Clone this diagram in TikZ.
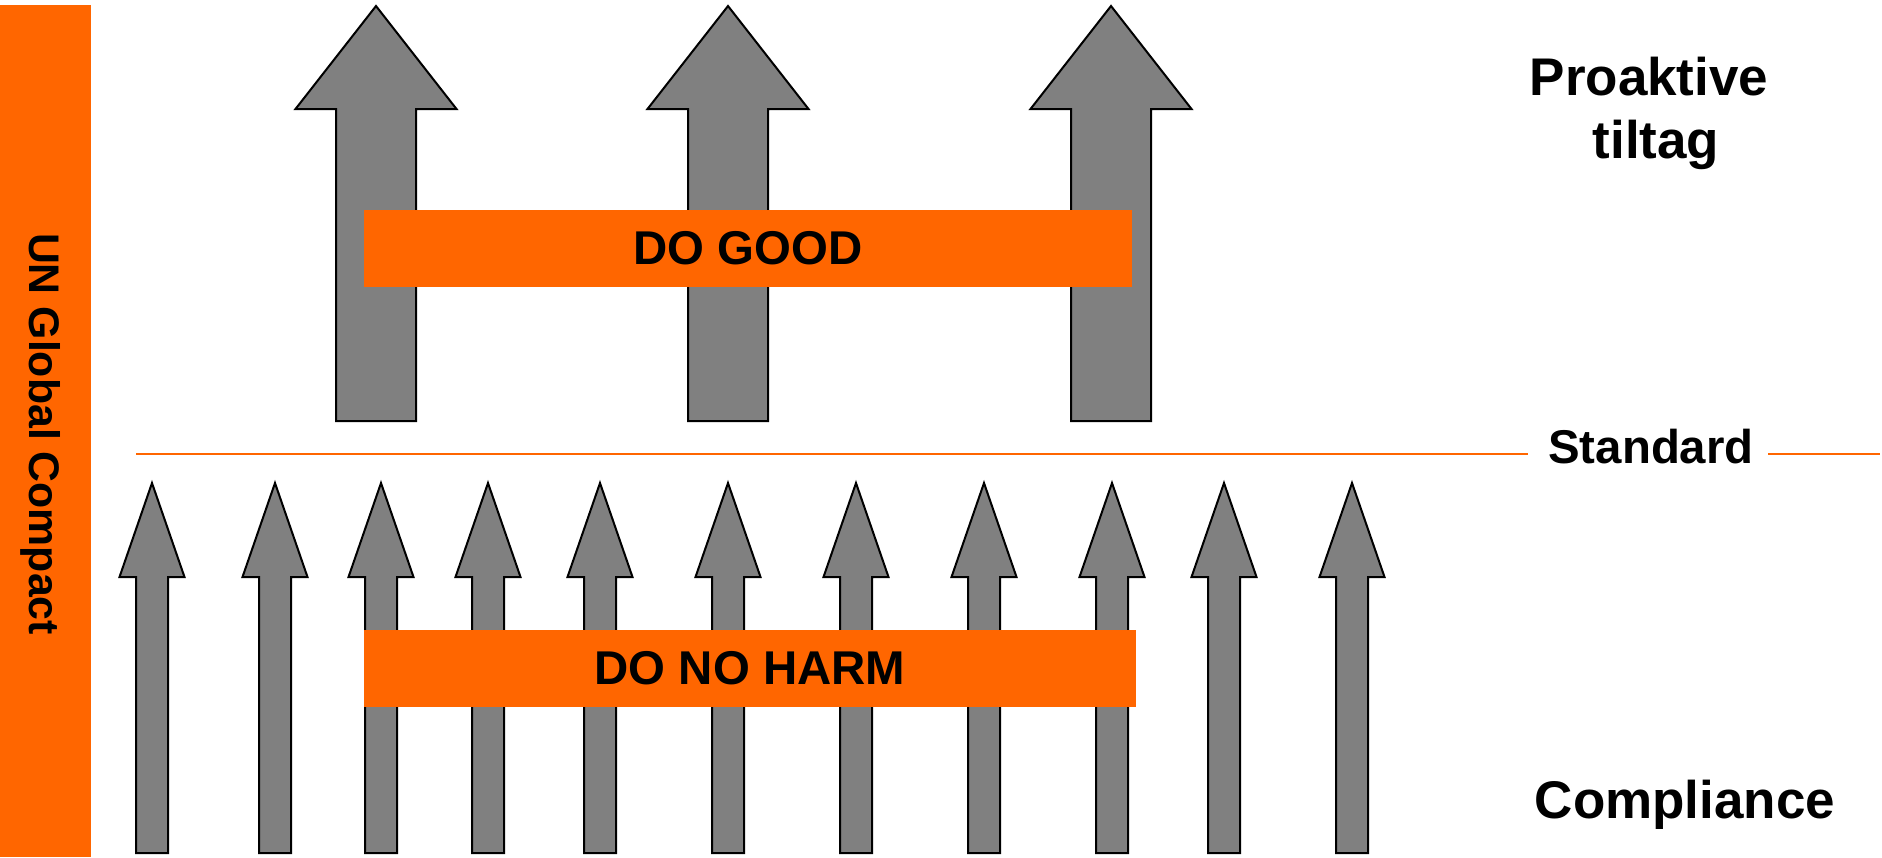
\documentclass[tikz,border=0pt]{standalone}
\usepackage{fontspec}
\setmainfont{Liberation Sans}
\definecolor{ungcorange}{HTML}{FF6600}
\definecolor{arrowgray}{HTML}{808080}
\begin{document}
\begin{tikzpicture}[x=0.5pt,y=-0.5pt,
  arrowbody/.style={fill=arrowgray,draw=black,line width=1pt,line join=miter},
  orangebox/.style={fill=ungcorange,inner sep=0pt,text=black,
    font=\bfseries\fontsize{23.7pt}{28pt}\selectfont},
  bigtext/.style={anchor=base,inner sep=0pt,font=\bfseries\fontsize{26.5pt}{31.5pt}\selectfont},
  midtext/.style={anchor=base,inner sep=0pt,font=\bfseries\fontsize{23.7pt}{28pt}\selectfont},
  stdline/.style={draw=ungcorange,line width=1pt},
  pics/bigarrow/.style={code={\draw[arrowbody] (0,0) -- (80.5,103) -- (40,103) -- (40,415) -- (-40,415) -- (-40,103) -- (-80.5,103) -- cycle;}},
  pics/smallarrow/.style={code={\draw[arrowbody] (0,0) -- (32.5,94) -- (16,94) -- (16,370) -- (-16,370) -- (-16,94) -- (-32.5,94) -- cycle;}},
]
\useasboundingbox (0,0) rectangle (1882,857);

% left bar
\fill[ungcorange] (0,5) rectangle (91,857);
\node[inner sep=0pt,rotate=-90,anchor=base,
      font=\bfseries\fontsize{21.4pt}{26pt}\selectfont] (ungc) at (29,434) {UN Global Compact};

% big arrows
\foreach \x [count=\i] in {376,728,1111} {
  \pic (big\i) at (\x,6) {bigarrow};
}

% small arrows
\foreach \x [count=\i] in {152,275,381,488,600,728,856,984,1112,1224,1352} {
  \pic (small\i) at (\x,483) {smallarrow};
}

% boxes
\node[orangebox,minimum width=384pt,minimum height=38.5pt] (dogood) at (748,248.5) {DO GOOD};
\node[orangebox,minimum width=386pt,minimum height=38.5pt] (donoharm) at (750,668.5) {DO NO HARM};

% standard line
\coordinate (sl1) at (136,454);
\coordinate (sl2) at (1528,454);
\coordinate (sr1) at (1768,454);
\coordinate (sr2) at (1880,454);
\draw[stdline] (sl1) -- (sl2);
\draw[stdline] (sr1) -- (sr2);

% right labels
\node[bigtext] (pro1) at (1649,95) {Proaktive};
\node[bigtext] (pro2) at (1656,158) {tiltag};
\node[midtext] (standard) at (1651,463) {Standard};
\node[bigtext] (compliance) at (1685,818) {Compliance};
\end{tikzpicture}
\end{document}
